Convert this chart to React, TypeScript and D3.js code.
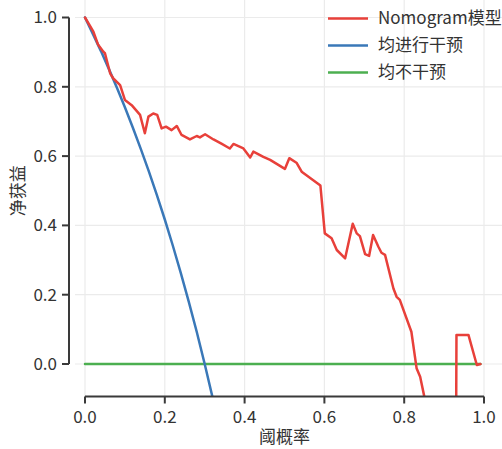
import React from "react";
import * as d3 from "d3";

const modelX = [0.0, 0.021, 0.033, 0.046, 0.05, 0.063, 0.071, 0.088, 0.1, 0.117, 0.138, 0.15, 0.159, 0.171, 0.181, 0.192, 0.203, 0.217, 0.23, 0.242, 0.263, 0.28, 0.288, 0.301, 0.322, 0.343, 0.363, 0.372, 0.397, 0.414, 0.422, 0.447, 0.464, 0.501, 0.512, 0.53, 0.543, 0.59, 0.601, 0.618, 0.631, 0.652, 0.671, 0.681, 0.689, 0.702, 0.712, 0.722, 0.735, 0.743, 0.752, 0.773, 0.781, 0.789, 0.818, 0.831, 0.84, 0.85, 0.87, 0.9, 0.929, 0.931, 0.961, 0.982, 0.991];
const modelY = [1.0, 0.959, 0.921, 0.901, 0.897, 0.839, 0.824, 0.805, 0.762, 0.747, 0.719, 0.666, 0.714, 0.723, 0.719, 0.68, 0.685, 0.675, 0.687, 0.661, 0.648, 0.658, 0.654, 0.663, 0.648, 0.635, 0.622, 0.635, 0.622, 0.596, 0.613, 0.598, 0.589, 0.563, 0.594, 0.581, 0.555, 0.515, 0.377, 0.363, 0.329, 0.305, 0.405, 0.377, 0.369, 0.317, 0.312, 0.372, 0.339, 0.321, 0.315, 0.218, 0.194, 0.185, 0.093, -0.012, -0.037, -0.092, -0.25, -0.45, -0.5, 0.084, 0.084, -0.003, 0.0];

const allX = [0.0, 0.02, 0.04, 0.06, 0.08, 0.1, 0.12, 0.14, 0.16, 0.18, 0.2, 0.22, 0.24, 0.26, 0.28, 0.3, 0.32, 0.34];
const allY = [1.0, 0.952, 0.903, 0.851, 0.797, 0.741, 0.682, 0.62, 0.556, 0.488, 0.417, 0.342, 0.263, 0.18, 0.093, 0.0, -0.098, -0.202];

const noneX = [0.0, 0.991];
const noneY = [0.0, 0.0];

const ticks = [0, 0.2, 0.4, 0.6, 0.8, 1.0];
const tickLabels = ["0.0", "0.2", "0.4", "0.6", "0.8", "1.0"];
const seriesNames = ["Nomogram模型", "均进行干预", "均不干预"];
const colors = ["#e8403a", "#3a78b8", "#4caf50"];

const FONT = "'Noto Sans CJK SC', 'Noto Sans', sans-serif";

export default function App() {
  const W = 502, H = 449;
  const x = d3.scaleLinear().domain([0, 1]).range([85, 484]);
  const y = d3.scaleLinear().domain([0, 1]).range([364, 17.5]);
  const plotLeft = 75, plotRight = 502, plotTop = 0, plotBottom = 396.5;

  const line = d3.line<[number, number]>().x(d => x(d[0])).y(d => y(d[1]));
  const series = [
    modelX.map((v, i) => [v, modelY[i]] as [number, number]),
    allX.map((v, i) => [v, allY[i]] as [number, number]),
    noneX.map((v, i) => [v, noneY[i]] as [number, number]),
  ];
  const axisColor = "#3a3a3a";
  const textColor = "#333";

  return (
    <svg width={W} height={H} style={{ position: "absolute", left: 0, top: 0, background: "#fff" }} fontFamily={FONT}>
      <defs>
        <clipPath id="plotclip">
          <rect x={plotLeft} y={plotTop} width={plotRight - plotLeft} height={plotBottom - plotTop} />
        </clipPath>
      </defs>
      {/* grid */}
      {ticks.map((t, i) => (
        <line key={"gy" + i} x1={plotLeft} x2={plotRight} y1={y(t)} y2={y(t)} stroke="#ebebeb" strokeWidth={1.2} />
      ))}
      {ticks.map((t, i) => (
        <line key={"gx" + i} x1={x(t)} x2={x(t)} y1={plotTop} y2={plotBottom} stroke="#ebebeb" strokeWidth={1.2} />
      ))}
      {/* series (draw green, blue, red order) */}
      <g clipPath="url(#plotclip)" fill="none" strokeLinejoin="round" strokeLinecap="round">
        <path d={line(series[2]) || ""} stroke={colors[2]} strokeWidth={2.5} />
        <path d={line(series[1]) || ""} stroke={colors[1]} strokeWidth={2.5} />
        <path d={line(series[0]) || ""} stroke={colors[0]} strokeWidth={2.5} />
      </g>
      {/* left spine */}
      <line x1={69} x2={69} y1={y(1)} y2={y(0)} stroke={axisColor} strokeWidth={2} />
      {ticks.map((t, i) => (
        <g key={"yt" + i}>
          <line x1={62} x2={69} y1={y(t)} y2={y(t)} stroke={axisColor} strokeWidth={2} />
          <text x={57} y={y(t)} dy="0.35em" textAnchor="end" fontSize={17} fill={textColor}>{tickLabels[i]}</text>
        </g>
      ))}
      {/* bottom spine */}
      <line x1={x(0)} x2={x(1)} y1={plotBottom} y2={plotBottom} stroke={axisColor} strokeWidth={2} />
      {ticks.map((t, i) => (
        <g key={"xt" + i}>
          <line x1={x(t)} x2={x(t)} y1={plotBottom} y2={plotBottom + 7} stroke={axisColor} strokeWidth={2} />
          <text x={x(t)} y={422.5} textAnchor="middle" fontSize={17} fill={textColor}>{tickLabels[i]}</text>
        </g>
      ))}
      <text x={(x(0) + x(1)) / 2} y={443} textAnchor="middle" fontSize={17} fill={textColor}>阈概率</text>
      <text transform={`translate(24, ${(y(0) + y(1)) / 2}) rotate(-90)`} textAnchor="middle" fontSize={17} fill={textColor}>净获益</text>
      {/* legend */}
      {seriesNames.map((n, i) => (
        <g key={"lg" + i} transform={`translate(0, ${18.5 + i * 27})`}>
          <line x1={328} x2={368} y1={0} y2={0} stroke={colors[i]} strokeWidth={2.5} />
          <text x={378} y={0} dy="0.35em" fontSize={17} fill={textColor}>{n}</text>
        </g>
      ))}
    </svg>
  );
}
